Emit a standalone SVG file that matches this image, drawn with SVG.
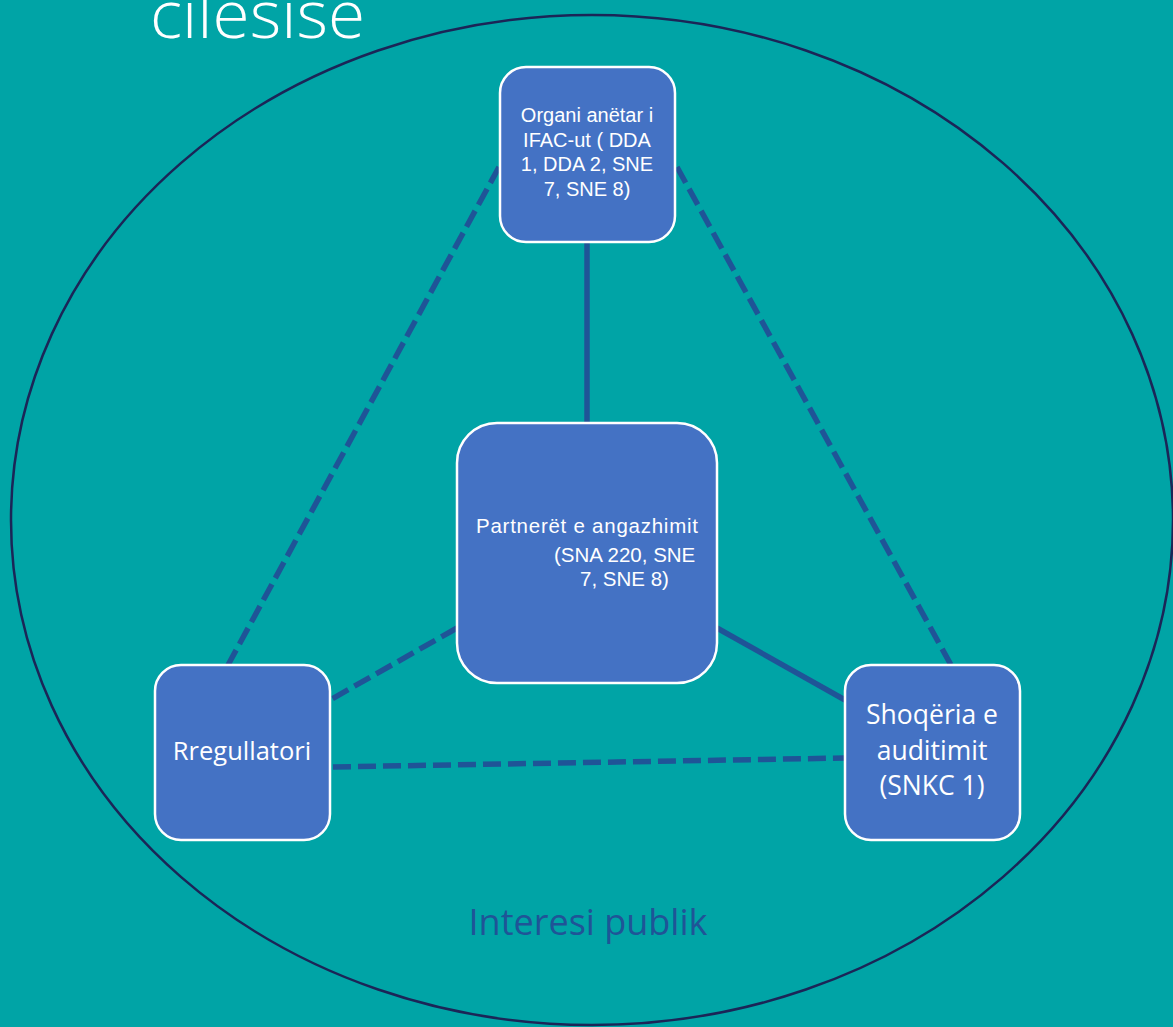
<svg xmlns="http://www.w3.org/2000/svg" width="1173" height="1027" viewBox="0 0 1173 1027">
<style>
.node{fill:#4472C4;stroke:#FFFFFF;stroke-width:2.5}
.t{font-family:"Open Sans","Liberation Sans",sans-serif;fill:#FFFFFF}
.s{font-family:"Liberation Sans",Arial,sans-serif;fill:#FFFFFF}
.c{stroke:#1F5497;stroke-width:5.5;fill:none}
.d{stroke-dasharray:18 7}
</style>
<rect x="0" y="0" width="1173" height="1027" fill="#00A4A6"/>
<text x="150" y="38" font-family="'Open Sans','Liberation Sans',sans-serif" font-size="66" font-weight="300" fill="#FFFFFF" textLength="215" lengthAdjust="spacingAndGlyphs">cilësisë</text>
<ellipse cx="592" cy="520" rx="581" ry="505" fill="none" stroke="#1B2557" stroke-width="2.5"/>
<g id="connectors">
<line class="c" x1="587" y1="242" x2="587" y2="423"/>
<line class="c d" x1="499" y1="167" x2="228" y2="665"/>
<line class="c d" x1="677" y1="167" x2="951" y2="665"/>
<line class="c d" x1="457" y1="628" x2="330" y2="700"/>
<line class="c" x1="717" y1="628" x2="845" y2="700"/>
<line class="c d" x1="333" y1="767" x2="845" y2="758"/>
</g>
<g id="node-organi">
<rect class="node" x="500" y="67" width="175" height="175" rx="26"/>
<text class="s" font-size="20" text-anchor="middle"><tspan x="587" y="122">Organi anëtar i</tspan><tspan x="587" y="147">IFAC-ut ( DDA</tspan><tspan x="587" y="171">1, DDA 2, SNE</tspan><tspan x="587" y="196">7, SNE 8)</tspan></text>
</g>
<g id="node-partneret">
<rect class="node" x="457" y="423" width="260" height="260" rx="40"/>
<text class="s" font-size="20.5"><tspan x="476" y="533" textLength="222" lengthAdjust="spacing">Partnerët e angazhimit</tspan><tspan x="554" y="562">(SNA 220, SNE</tspan><tspan x="580" y="586">7, SNE 8)</tspan></text>
</g>
<g id="node-rregullatori">
<rect class="node" x="155" y="665" width="175" height="175" rx="26"/>
<text class="t" font-size="25.5" text-anchor="middle" x="242" y="760">Rregullatori</text>
</g>
<g id="node-shoqeria">
<rect class="node" x="845" y="665" width="175" height="175" rx="26"/>
<text class="t" font-size="26.5" text-anchor="middle"><tspan x="932" y="724">Shoqëria e</tspan><tspan x="932" y="760">auditimit</tspan><tspan x="932" y="795">(SNKC 1)</tspan></text>
</g>
<text x="588" y="935" font-family="'Open Sans','Liberation Sans',sans-serif" font-size="36" fill="#1F5497" text-anchor="middle">Interesi publik</text>
</svg>
